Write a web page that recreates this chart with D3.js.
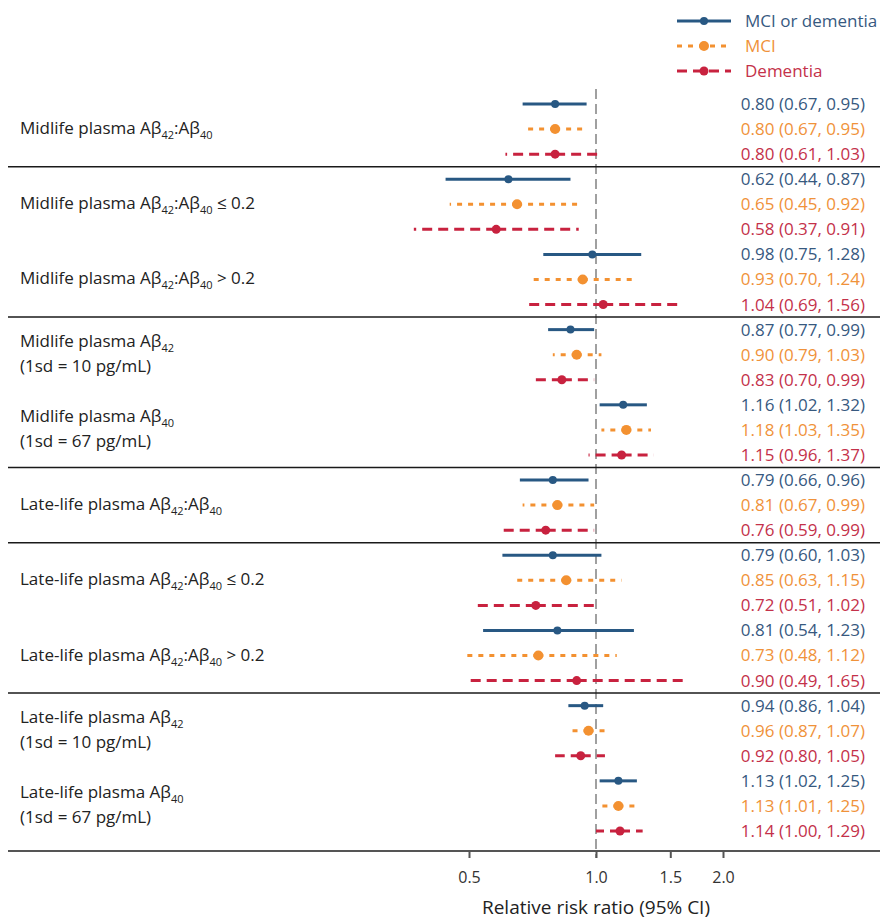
<!DOCTYPE html>
<meta charset="utf-8">
<style>
body { margin: 0; background: #fff; }
text { font-family: "Open Sans", sans-serif; }
</style>
<body>
<script src="https://cdn.jsdelivr.net/npm/d3@7"></script>
<script>
// exposures, top to bottom (label lines; "_" marks a subscript)
var labels = [
  [["Midlife plasma Aβ", "_42", ":Aβ", "_40"]],
  [["Midlife plasma Aβ", "_42", ":Aβ", "_40", " ≤ 0.2"]],
  [["Midlife plasma Aβ", "_42", ":Aβ", "_40", " > 0.2"]],
  [["Midlife plasma Aβ", "_42"], ["(1sd = 10 pg/mL)"]],
  [["Midlife plasma Aβ", "_40"], ["(1sd = 67 pg/mL)"]],
  [["Late-life plasma Aβ", "_42", ":Aβ", "_40"]],
  [["Late-life plasma Aβ", "_42", ":Aβ", "_40", " ≤ 0.2"]],
  [["Late-life plasma Aβ", "_42", ":Aβ", "_40", " > 0.2"]],
  [["Late-life plasma Aβ", "_42"], ["(1sd = 10 pg/mL)"]],
  [["Late-life plasma Aβ", "_40"], ["(1sd = 67 pg/mL)"]]
];

var outcomes = ["MCI or dementia", "MCI", "Dementia"];

// relative risk ratios and 95% CI, one array per outcome
var estBoth = [0.80, 0.62, 0.98, 0.87, 1.16, 0.79, 0.79, 0.81, 0.94, 1.13];
var loBoth  = [0.67, 0.44, 0.75, 0.77, 1.02, 0.66, 0.60, 0.54, 0.86, 1.02];
var hiBoth  = [0.95, 0.87, 1.28, 0.99, 1.32, 0.96, 1.03, 1.23, 1.04, 1.25];

var estMci = [0.80, 0.65, 0.93, 0.90, 1.18, 0.81, 0.85, 0.73, 0.96, 1.13];
var loMci  = [0.67, 0.45, 0.70, 0.79, 1.03, 0.67, 0.63, 0.48, 0.87, 1.01];
var hiMci  = [0.95, 0.92, 1.24, 1.03, 1.35, 0.99, 1.15, 1.12, 1.07, 1.25];

var estDem = [0.80, 0.58, 1.04, 0.83, 1.15, 0.76, 0.72, 0.90, 0.92, 1.14];
var loDem  = [0.61, 0.37, 0.69, 0.70, 0.96, 0.59, 0.51, 0.49, 0.80, 1.00];
var hiDem  = [1.03, 0.91, 1.56, 0.99, 1.37, 0.99, 1.02, 1.65, 1.05, 1.29];

// separators drawn after these exposures
var breaksAfter = [0, 2, 4, 5, 7];
var ticks = [0.5, 1.0, 1.5, 2.0];

var width = 880, height = 921;

var series = [
  {name: outcomes[0], est: estBoth, lo: loBoth, hi: hiBoth, color: "#285883", text: "#37597f", dash: null, r: 4},
  {name: outcomes[1], est: estMci, lo: loMci, hi: hiMci, color: "#f39131", text: "#f0923a", dash: "5,6", r: 5},
  {name: outcomes[2], est: estDem, lo: loDem, hi: hiDem, color: "#c8223f", text: "#c4314a", dash: "10,6", r: 4.5}
];

var x = d3.scaleLog().domain([0.5, 2]).range([469, 723]);
var y = d3.scaleLinear().domain([0, 29]).range([104, 831]);

var svg = d3.select("body").append("svg")
    .attr("width", width)
    .attr("height", height);

// reference line at 1
svg.append("line")
    .attr("x1", x(1)).attr("x2", x(1))
    .attr("y1", 89).attr("y2", 858)
    .attr("stroke", "#a0a0a0")
    .attr("stroke-width", 2)
    .attr("stroke-dasharray", "10,5");

// separators
svg.selectAll(".sep")
    .data(breaksAfter)
  .enter().append("line")
    .attr("class", "sep")
    .attr("x1", 8).attr("x2", width)
    .attr("y1", function(d) { return y(d * 3 + 2.5); })
    .attr("y2", function(d) { return y(d * 3 + 2.5); })
    .attr("stroke", "#1a1a1a")
    .attr("stroke-width", 1.5);

// exposure labels
labels.forEach(function(lines, i) {
  lines.forEach(function(parts, j) {
    var row = lines.length == 1 ? i * 3 + 1 : i * 3 + 0.5 + j;
    var t = svg.append("text")
        .attr("x", 20)
        .attr("y", y(row) + 5)
        .attr("dy", "0.35em")
        .attr("font-size", 17)
        .attr("fill", "#222");
    var shift = 0;
    parts.forEach(function(p) {
      if (p[0] == "_") {
        t.append("tspan").attr("font-size", 11).attr("dy", 5).text(p.slice(1));
        shift = -5;
      } else {
        t.append("tspan").attr("dy", shift).text(p);
        shift = 0;
      }
    });
  });
});

// CI lines, points and value text
var fmt = d3.format(".2f");
series.forEach(function(s, k) {
  var g = svg.append("g");
  s.est.forEach(function(e, i) {
    var yy = y(i * 3 + k);
    [s.lo[i], s.hi[i]].forEach(function(end) {
      g.append("line")
          .attr("x1", x(e)).attr("x2", x(end))
          .attr("y1", yy).attr("y2", yy)
          .attr("stroke", s.color)
          .attr("stroke-width", 3)
          .attr("stroke-dasharray", s.dash);
    });
    g.append("circle")
        .attr("cx", x(e)).attr("cy", yy)
        .attr("r", s.r)
        .attr("fill", s.color);
    svg.append("text")
        .attr("x", 865)
        .attr("y", yy)
        .attr("dy", "0.35em")
        .attr("text-anchor", "end")
        .attr("font-size", 17)
        .attr("fill", s.text)
        .text(fmt(e) + " (" + fmt(s.lo[i]) + ", " + fmt(s.hi[i]) + ")");
  });
});

// legend
var leg = svg.append("g");
series.forEach(function(s, k) {
  var ly = 21 + k * 25;
  leg.append("line")
      .attr("x1", 677).attr("x2", 731)
      .attr("y1", ly).attr("y2", ly)
      .attr("stroke", s.color)
      .attr("stroke-width", 3)
      .attr("stroke-dasharray", s.dash);
  leg.append("circle")
      .attr("cx", 704).attr("cy", ly)
      .attr("r", s.r)
      .attr("fill", s.color);
  leg.append("text")
      .attr("x", 745).attr("y", ly)
      .attr("dy", "0.35em")
      .attr("font-size", 17)
      .attr("fill", s.text)
      .text(s.name);
});

// x axis
var axis = svg.append("g")
    .attr("transform", "translate(0,851)")
    .call(d3.axisBottom(x).tickValues(ticks).tickFormat(d3.format(".1f")).tickSize(7).tickPadding(14));
axis.select(".domain").remove();
axis.insert("line", ":first-child")
    .attr("x1", 8).attr("x2", width)
    .attr("stroke", "#555")
    .attr("stroke-width", 2);
axis.selectAll(".tick line").attr("stroke", "#555").attr("stroke-width", 2);
axis.selectAll(".tick text")
    .attr("font-family", "Open Sans, sans-serif")
    .attr("font-size", 16)
    .attr("fill", "#333");

svg.append("text")
    .attr("x", x(1))
    .attr("y", 907)
    .attr("dy", "0.35em")
    .attr("text-anchor", "middle")
    .attr("font-size", 19)
    .attr("fill", "#222")
    .text("Relative risk ratio (95% CI)");
</script>
</body>
